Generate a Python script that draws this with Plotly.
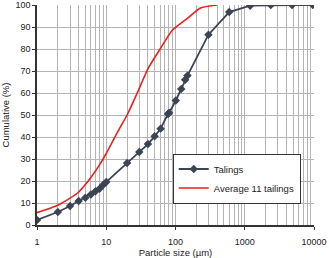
import plotly.graph_objects as go

tail_x = [1, 2, 3, 4, 5, 6, 7, 8, 9, 10, 20, 30, 40, 50, 61, 78, 81, 101, 121, 138, 149, 299, 596, 1197, 2380, 4830, 9600]
tail_y = [2.3, 5.9, 8.6, 10.9, 12.4, 13.9, 15.3, 16.5, 18.2, 19.5, 28.2, 33.2, 36.8, 40.3, 43.8, 50.5, 51, 56.6, 61.8, 66, 67.9, 86.5, 96.8, 99.7, 100, 100, 100]

avg_x = [1, 2, 3, 4, 5, 6, 8, 10, 15, 20, 28, 40, 60, 90, 150, 230, 400]
avg_y = [5.6, 9, 12.2, 15, 18.4, 21.6, 27.3, 32.5, 43, 50, 60, 71, 80, 88.5, 94, 98.6, 100]

x_ticks = [1, 10, 100, 1000, 10000]
y_ticks = list(range(0, 101, 10))

dark = "#3c4352"
grid = "#b4b4b4"

fig = go.Figure()
fig.add_trace(go.Scatter(x=tail_x, y=tail_y, name="Talings", mode="lines+markers",
                         line=dict(color=dark, width=1.8),
                         marker=dict(symbol="diamond", size=6.5, color=dark)))
fig.add_trace(go.Scatter(x=avg_x, y=avg_y, name="Average 11 tailings", mode="lines",
                         line=dict(color="#e8211f", width=1.6, shape="spline", smoothing=0.6)))

font = dict(family="Liberation Sans, Arial", size=9, color="#222")
fig.update_layout(
    width=329, height=258,
    margin=dict(l=37, r=15, t=5, b=33, autoexpand=False),
    paper_bgcolor="white", plot_bgcolor="white",
    font=font,
    showlegend=True,
    legend=dict(x=0.49, y=0.325, xanchor="left", yanchor="top",
                bordercolor="#333", borderwidth=1, bgcolor="white",
                font=dict(size=9.5), tracegroupgap=0, itemwidth=30),
    xaxis=dict(type="log", range=[0, 4], tickvals=x_ticks, ticktext=[str(v) for v in x_ticks],
               showgrid=True, gridcolor=grid, gridwidth=1, automargin=False,
               minor=dict(showgrid=True, gridcolor=grid, gridwidth=1, dtick="D1", ticks=""),
               showline=True, linecolor="#333", linewidth=1.5, ticks="outside", ticklen=3,
               tickcolor="#333", zeroline=False, ticklabelstandoff=4,
               title=dict(text="Particle size (µm)", font=dict(size=9.5), standoff=3)),
    yaxis=dict(range=[0, 100], tickvals=y_ticks, showgrid=True, gridcolor=grid, gridwidth=1,
               showline=True, linecolor="#333", linewidth=1.5, ticks="outside", ticklen=3,
               tickcolor="#333", zeroline=False, mirror=False, automargin=False,
               title=dict(text="Cumulative (%)", font=dict(size=9.5), standoff=4)),
)
fig.write_html("out.html")
